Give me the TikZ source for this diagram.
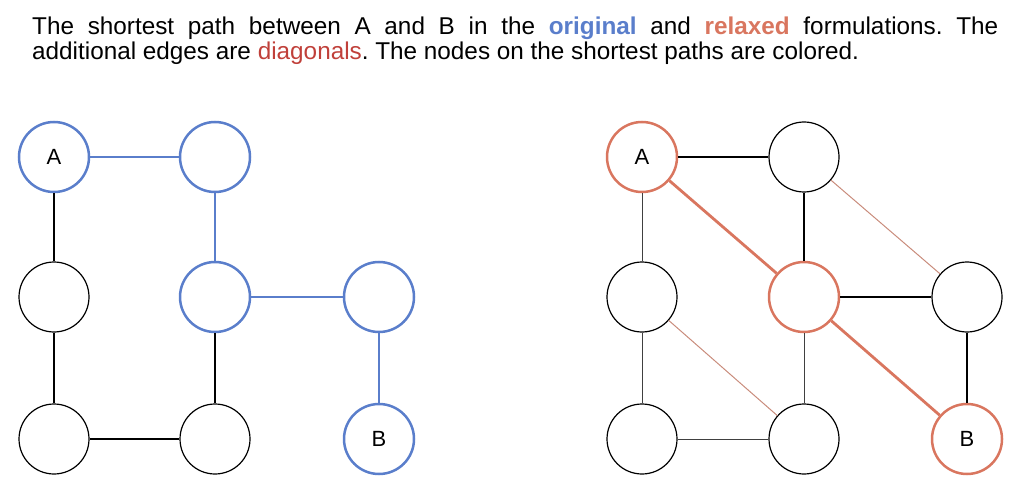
\documentclass[tikz,border=0pt]{standalone}
\usepackage{fontspec}
\setmainfont{Liberation Sans}
\definecolor{origblue}{HTML}{5A7ECB}
\definecolor{relaxor}{HTML}{D9765F}
\definecolor{diagred}{HTML}{C0403A}
\definecolor{thindiag}{HTML}{C98C7C}
\tikzset{
  vert/.style={circle, draw=black, line width=1.2pt, minimum size=70pt, inner sep=0pt, font=\fontsize{22}{26}\selectfont},
  bluev/.style={vert, draw=origblue, line width=2.5pt},
  orv/.style={vert, draw=relaxor, line width=2.5pt},
  blk/.style={draw=black, line width=1.1pt},
  thinblk/.style={draw=black!75, line width=0.9pt},
  blue/.style={draw=origblue, line width=2.8pt},
  orpath/.style={draw=relaxor, line width=2.8pt},
  diag/.style={draw=thindiag, line width=1pt},
}
\begin{document}
\begin{tikzpicture}[x=1pt,y=-1pt]
\useasboundingbox (0,0) rectangle (1024,478);
\node[anchor=base west, text width=966pt, align=justify, inner sep=0pt, font=\fontsize{24.3}{25.5}\selectfont] (cap) at (32,34.5)
 {\frenchspacing The shortest path between A and B in the \textbf{\textcolor{origblue}{original}} and \textbf{\textcolor{relaxor}{relaxed}} formulations. The\linebreak additional edges are \textcolor{diagred}{diagonals}. The nodes on the shortest paths are colored.};
% left graph
\node[bluev] (lA) at (54,157) {A};
\node[bluev] (l21) at (215,157) {};
\node[vert] (l12) at (54,297) {};
\node[bluev] (l22) at (215,297) {};
\node[bluev] (l32) at (379,297) {};
\node[vert] (l13) at (54,439) {};
\node[vert] (l23) at (215,439) {};
\node[bluev] (lB) at (379,439) {B};
\draw[blue] (lA) -- (l21);
\draw[blue] (l21) -- (l22);
\draw[blue] (l22) -- (l32);
\draw[blue] (l32) -- (lB);
\draw[blk] (lA) -- (l12);
\draw[blk] (l12) -- (l13);
\draw[blk] (l13) -- (l23);
\draw[blk] (l22) -- (l23);
% right graph
\node[orv] (rA) at (642,157) {A};
\node[vert] (r21) at (804,157) {};
\node[vert] (r12) at (642,297) {};
\node[orv] (r22) at (804,297) {};
\node[vert] (r32) at (967,297) {};
\node[vert] (r13) at (642,439) {};
\node[vert] (r23) at (804,439) {};
\node[orv] (rB) at (967,439) {B};
\draw[blk] (rA) -- (r21);
\draw[blk] (r21) -- (r22);
\draw[blk] (r22) -- (r32);
\draw[blk] (r32) -- (rB);
\draw[thinblk] (rA) -- (r12);
\draw[thinblk] (r12) -- (r13);
\draw[thinblk] (r13) -- (r23);
\draw[thinblk] (r22) -- (r23);
\draw[orpath] (rA) -- (r22);
\draw[orpath] (r22) -- (rB);
\draw[diag] (r21) -- (r32);
\draw[diag] (r12) -- (r23);
\end{tikzpicture}
\end{document}
